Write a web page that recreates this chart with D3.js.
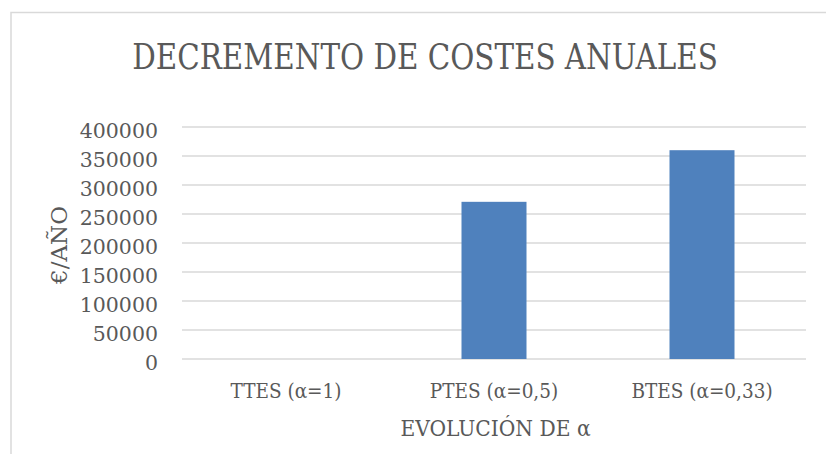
<!DOCTYPE html>
<html>
<head>
<meta charset="utf-8">
<script src="https://cdn.jsdelivr.net/npm/d3@7"></script>
<style>
  body { margin: 0; background: #fff; }
  text { font-family: 'DejaVu Serif', serif; fill: #595959; }
  .cond { font-stretch: condensed; }
</style>
</head>
<body>
<script>
const width = 826;
const height = 454;

const categories = ['TTES (α=1)', 'PTES (α=0,5)', 'BTES (α=0,33)'];
const values = [0, 271000, 360000];
const yTicks = [0, 50000, 100000, 150000, 200000, 250000, 300000, 350000, 400000];

const margin = { left: 182, right: 20, top: 127, bottom: 95 };

const svg = d3.select('body').append('svg')
  .attr('width', width)
  .attr('height', height);

// chart frame (only top and left edges show)
svg.append('path')
  .attr('d', `M11,${height} L11,12.5 L${width},12.5`)
  .attr('fill', 'none')
  .attr('stroke', '#d9d9d9')
  .attr('stroke-width', 1.5);

const x = d3.scaleBand()
  .domain(categories)
  .range([margin.left, width - margin.right])
  .paddingInner(0.6875)
  .paddingOuter(0.34375);

const y = d3.scaleLinear()
  .domain([0, 400000])
  .range([height - margin.bottom, margin.top]);

// gridlines
svg.append('g')
  .selectAll('line')
  .data(yTicks)
  .enter().append('line')
    .attr('x1', margin.left)
    .attr('x2', width - margin.right)
    .attr('y1', d => y(d))
    .attr('y2', d => y(d))
    .attr('stroke', '#d9d9d9')
    .attr('stroke-width', 1.5);

// bars
svg.append('g')
  .selectAll('rect')
  .data(values)
  .enter().append('rect')
    .attr('x', (d, i) => x(categories[i]))
    .attr('width', x.bandwidth())
    .attr('y', d => y(d))
    .attr('height', d => y(0) - y(d))
    .attr('fill', '#4f81bd');

// y axis labels
const yAxis = svg.append('g')
  .attr('transform', `translate(${margin.left - 24},0)`)
  .call(d3.axisLeft(y).tickValues(yTicks).tickSize(0).tickPadding(0).tickFormat(d3.format('d')));
yAxis.select('.domain').remove();
yAxis.selectAll('text')
  .attr('fill', null)
  .attr('dy', 10)
  .style('font-size', '20.5px');

// x axis labels
const xAxis = svg.append('g')
  .attr('transform', `translate(0,${y(0)})`)
  .call(d3.axisBottom(x).tickSize(0).tickPadding(0));
xAxis.select('.domain').remove();
xAxis.selectAll('text')
  .attr('class', 'cond')
  .attr('fill', null)
  .attr('dy', null)
  .attr('y', 39)
  .style('font-size', '20.5px');

// title
svg.append('text')
  .attr('class', 'cond')
  .attr('transform', 'translate(425,69) scale(0.907,1)')
  .attr('text-anchor', 'middle')
  .style('font-size', '36px')
  .text('DECREMENTO DE COSTES ANUALES');

// axis titles
svg.append('text')
  .attr('class', 'cond')
  .attr('x', 495.5)
  .attr('y', 436)
  .attr('text-anchor', 'middle')
  .style('font-size', '22.5px')
  .text('EVOLUCIÓN DE α');

svg.append('text')
  .attr('transform', 'translate(67,245) rotate(-90)')
  .attr('text-anchor', 'middle')
  .style('font-size', '23px')
  .text('€/AÑO');
</script>
</body>
</html>
